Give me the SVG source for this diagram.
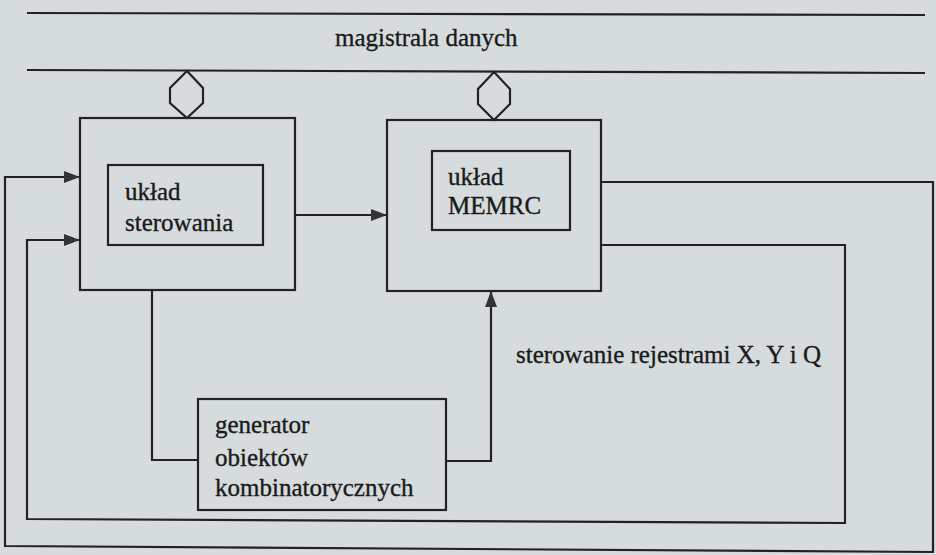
<svg xmlns="http://www.w3.org/2000/svg" width="936" height="555" viewBox="0 0 936 555">
<defs>
<style>
.ln{fill:none;stroke:#222;stroke-width:2.2}
.bx{fill:none;stroke:#222;stroke-width:2.2}
.t{font-family:"Liberation Serif","Times New Roman",serif;font-size:25px;fill:#1a1a1a;stroke:#1a1a1a;stroke-width:0.35}
</style>
<marker id="ah" viewBox="0 0 16 12" refX="16" refY="6" markerWidth="16" markerHeight="12" markerUnits="userSpaceOnUse" orient="auto">
<path d="M0,0 L16,6 L0,12 Z" fill="#333"/>
</marker>
</defs>
<rect width="936" height="555" fill="#d6dcdd"/>
<g id="bus">
<line class="ln" x1="27" y1="13" x2="925" y2="15"/>
<line class="ln" x1="27" y1="70" x2="925" y2="73"/>
<text class="t" x="335" y="46">magistrala danych</text>
</g>
<g id="connectors">
<polygon class="ln" points="187,71 203,88 203,103 187,118 170,103 170,88"/>
<polygon class="ln" points="494,72 510,89 510,104 494,120 478,104 478,89"/>
<line class="ln" x1="295" y1="215" x2="387" y2="215" marker-end="url(#ah)"/>
<polyline class="ln" points="152,290 152,460 198,460"/>
<polyline class="ln" points="446,461 491,461 491,291" marker-end="url(#ah)"/>
<polyline class="ln" points="601,182 933,182 933,552 5,546 5,177 80,177" marker-end="url(#ah)"/>
<polyline class="ln" points="601,245 845,245 845,523 27,519 27,240 80,240" marker-end="url(#ah)"/>
</g>
<g id="sterowanie">
<rect class="bx" x="80" y="118" width="215" height="172"/>
<rect class="bx" x="108" y="165" width="155" height="80"/>
<text class="t" x="125" y="200">układ</text>
<text class="t" x="125" y="231">sterowania</text>
</g>
<g id="memrc">
<rect class="bx" x="387" y="120" width="214" height="171"/>
<rect class="bx" x="432" y="151" width="138" height="79"/>
<text class="t" x="448" y="185">układ</text>
<text class="t" x="448" y="214">MEMRC</text>
</g>
<g id="generator">
<rect class="bx" x="198" y="399" width="248" height="111"/>
<text class="t" x="215" y="433">generator</text>
<text class="t" x="215" y="466">obiektów</text>
<text class="t" x="215" y="496">kombinatorycznych</text>
</g>
<g id="label">
<text class="t" x="516" y="363">sterowanie rejestrami X, Y i Q</text>
</g>
</svg>
